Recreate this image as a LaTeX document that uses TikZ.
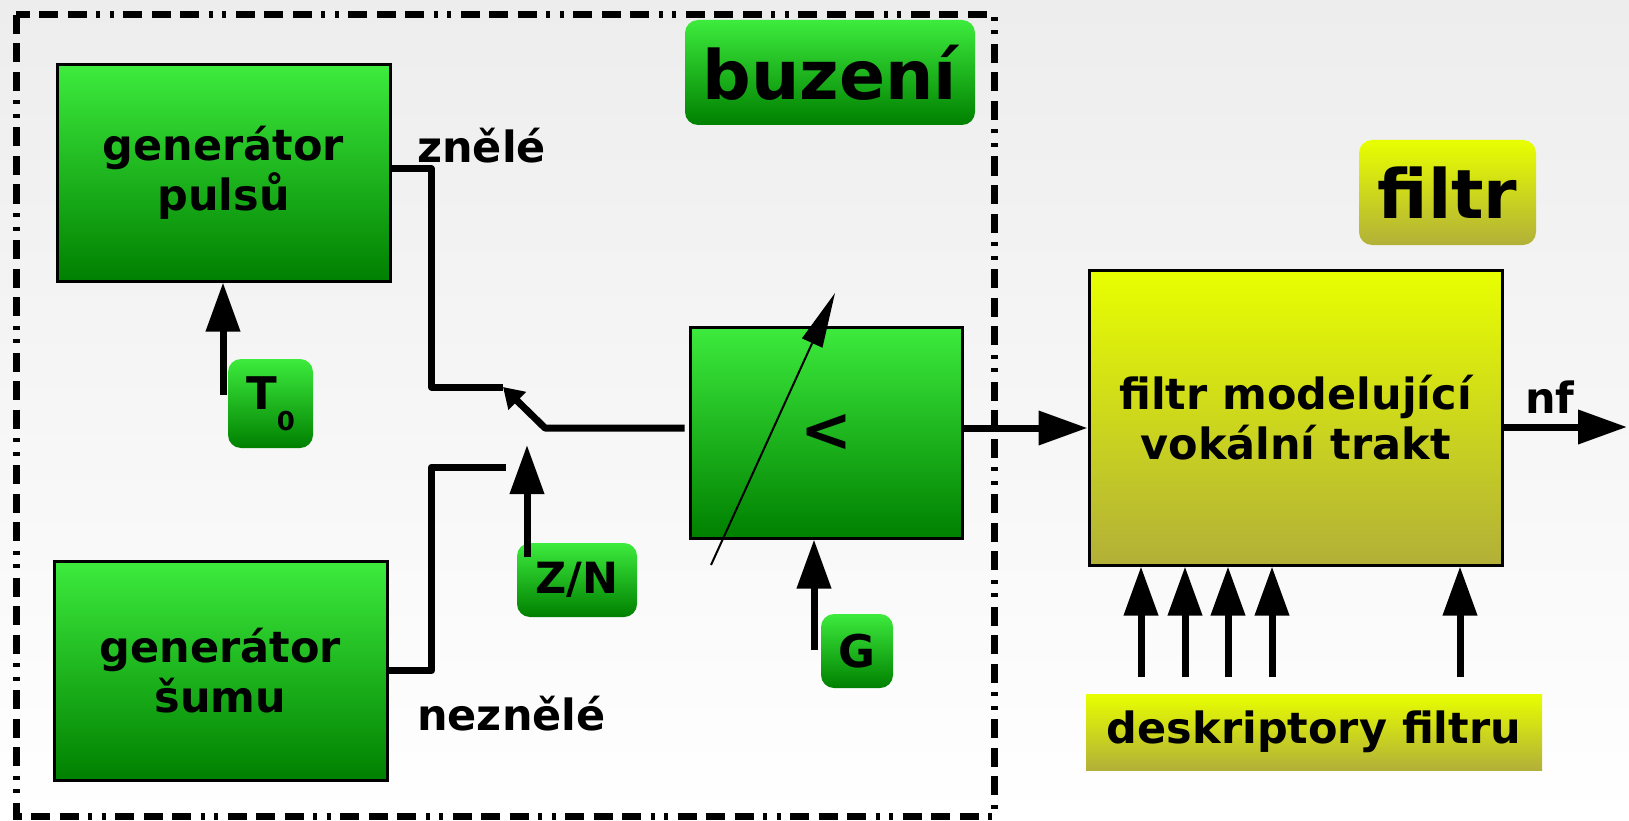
\documentclass[tikz,border=0pt]{standalone}
\usepackage{fontspec}
\setmainfont{DejaVu Sans}
\usetikzlibrary{arrows.meta}
\definecolor{gtop}{RGB}{61,235,61}
\definecolor{gbot}{RGB}{0,128,0}
\definecolor{ytop}{RGB}{232,255,0}
\definecolor{ybot}{RGB}{178,176,56}
\definecolor{bgtop}{RGB}{238,237,237}
\begin{document}
\begin{tikzpicture}[x=1pt,y=-1pt,
  wire/.style={line width=7pt, line join=round},
  arr/.style={wire, -{Triangle[length=49pt,width=33pt]}},
  txt/.style={font=\fontsize{43}{50}\selectfont\bfseries},
  blk/.style={draw, line width=3pt, inner sep=0pt, align=center, txt},
  gfill/.style={top color=gtop, bottom color=gbot},
  yfill/.style={top color=ytop, bottom color=ybot},
  tag/.style={rounded corners=13pt, inner sep=0pt, align=center},
  big/.style={font=\fontsize{68}{68}\selectfont\bfseries},
  lbl/.style={anchor=base west, inner sep=0pt, txt},
]
\useasboundingbox (0,0) rectangle (1629,821);
\shade[top color=bgtop, bottom color=white] (0,0) rectangle (1629,821);

\draw[line width=7pt, dash pattern=on 19pt off 9.5pt on 19pt off 9.5pt on 19pt off 9.5pt on 4pt off 9.5pt on 4pt off 9.5pt]
  (16,15) rectangle (994,816);

% blocks
\node[blk, gfill, minimum width=333pt, minimum height=216pt] (gp) at (223.5,173) {generátor\\pulsů};
\node[blk, gfill, minimum width=333pt, minimum height=219pt] (gs) at (220.5,670.5) {generátor\\šumu};
\node[blk, gfill, minimum width=272pt, minimum height=211pt, font=\fontsize{62}{62}\selectfont\bfseries] (amp) at (826,432.5) {<};
\node[blk, yfill, minimum width=413pt, minimum height=295pt] (flt) at (1295.5,417.5) {filtr modelující\\vokální trakt};

% tags
\node[tag, gfill, big, minimum width=290pt, minimum height=105pt] (buz) at (830,72.5) {buzení};
\node[tag, yfill, big, minimum width=177pt, minimum height=105pt] (ftag) at (1447.5,192.5) {filtr};
\node[tag, gfill, minimum width=85pt, minimum height=89pt, font=\fontsize{45}{45}\selectfont\bfseries] (t0) at (270.5,403.5) {T\raisebox{-21pt}{\fontsize{26}{26}\selectfont 0}};
\node[tag, gfill, txt, minimum width=120pt, minimum height=74pt] (zn) at (577,580) {Z/N};
\node[tag, gfill, minimum width=72pt, minimum height=74pt, font=\fontsize{45}{45}\selectfont\bfseries] (g) at (857,651) {G};
\node[yfill, txt, inner sep=0pt, minimum width=456pt, minimum height=76pt] (desk) at (1314,732) {deskriptory filtru};

% labels
\node[lbl] (zl) at (417,163) {znělé};
\node[lbl] (nzl) at (417,730) {neznělé};
\node[lbl] (nf) at (1525,413) {nf};

% coordinates
\coordinate (sv) at (503,387);
\coordinate (sn) at (506,467);
\coordinate (sp) at (545,428);
\coordinate (znt) at (527,445);
\coordinate (zns) at (527,557);
\coordinate (t0s) at (223,395);
\coordinate (gs0) at (814,650);
\coordinate (va) at (711,565);
\coordinate (vb) at (835,293);
\coordinate (out) at (1627,427);

% wires
\draw[wire] ([yshift=4pt]gp.east) -- ++(40,0) |- (sv);
\draw[wire] (gs.east) -- ++(43,0) |- (sn);
\draw[wire, -{Triangle[length=20pt,width=24pt]}] ([xshift=-4pt]amp.west |- sp) -- (sp) -- (sv);
\draw[arr] (zns) -- (znt);
\draw[arr] (t0s) -- (t0s |- gp.south);
\draw[arr] (gs0) -- (gs0 |- amp.south);
\draw[line width=2pt, -{Triangle[length=55pt,width=22pt]}] (va) -- (vb);
\draw[arr] (amp.east |- sp) -- (flt.west |- sp);
\draw[arr] (flt.east |- out) -- (out);
\foreach \x [count=\i] in {1141,1185,1228,1272,1460} {
  \coordinate (d\i) at (\x,677);
  \draw[arr] (d\i) -- (d\i |- flt.south);
}
\end{tikzpicture}
\end{document}
